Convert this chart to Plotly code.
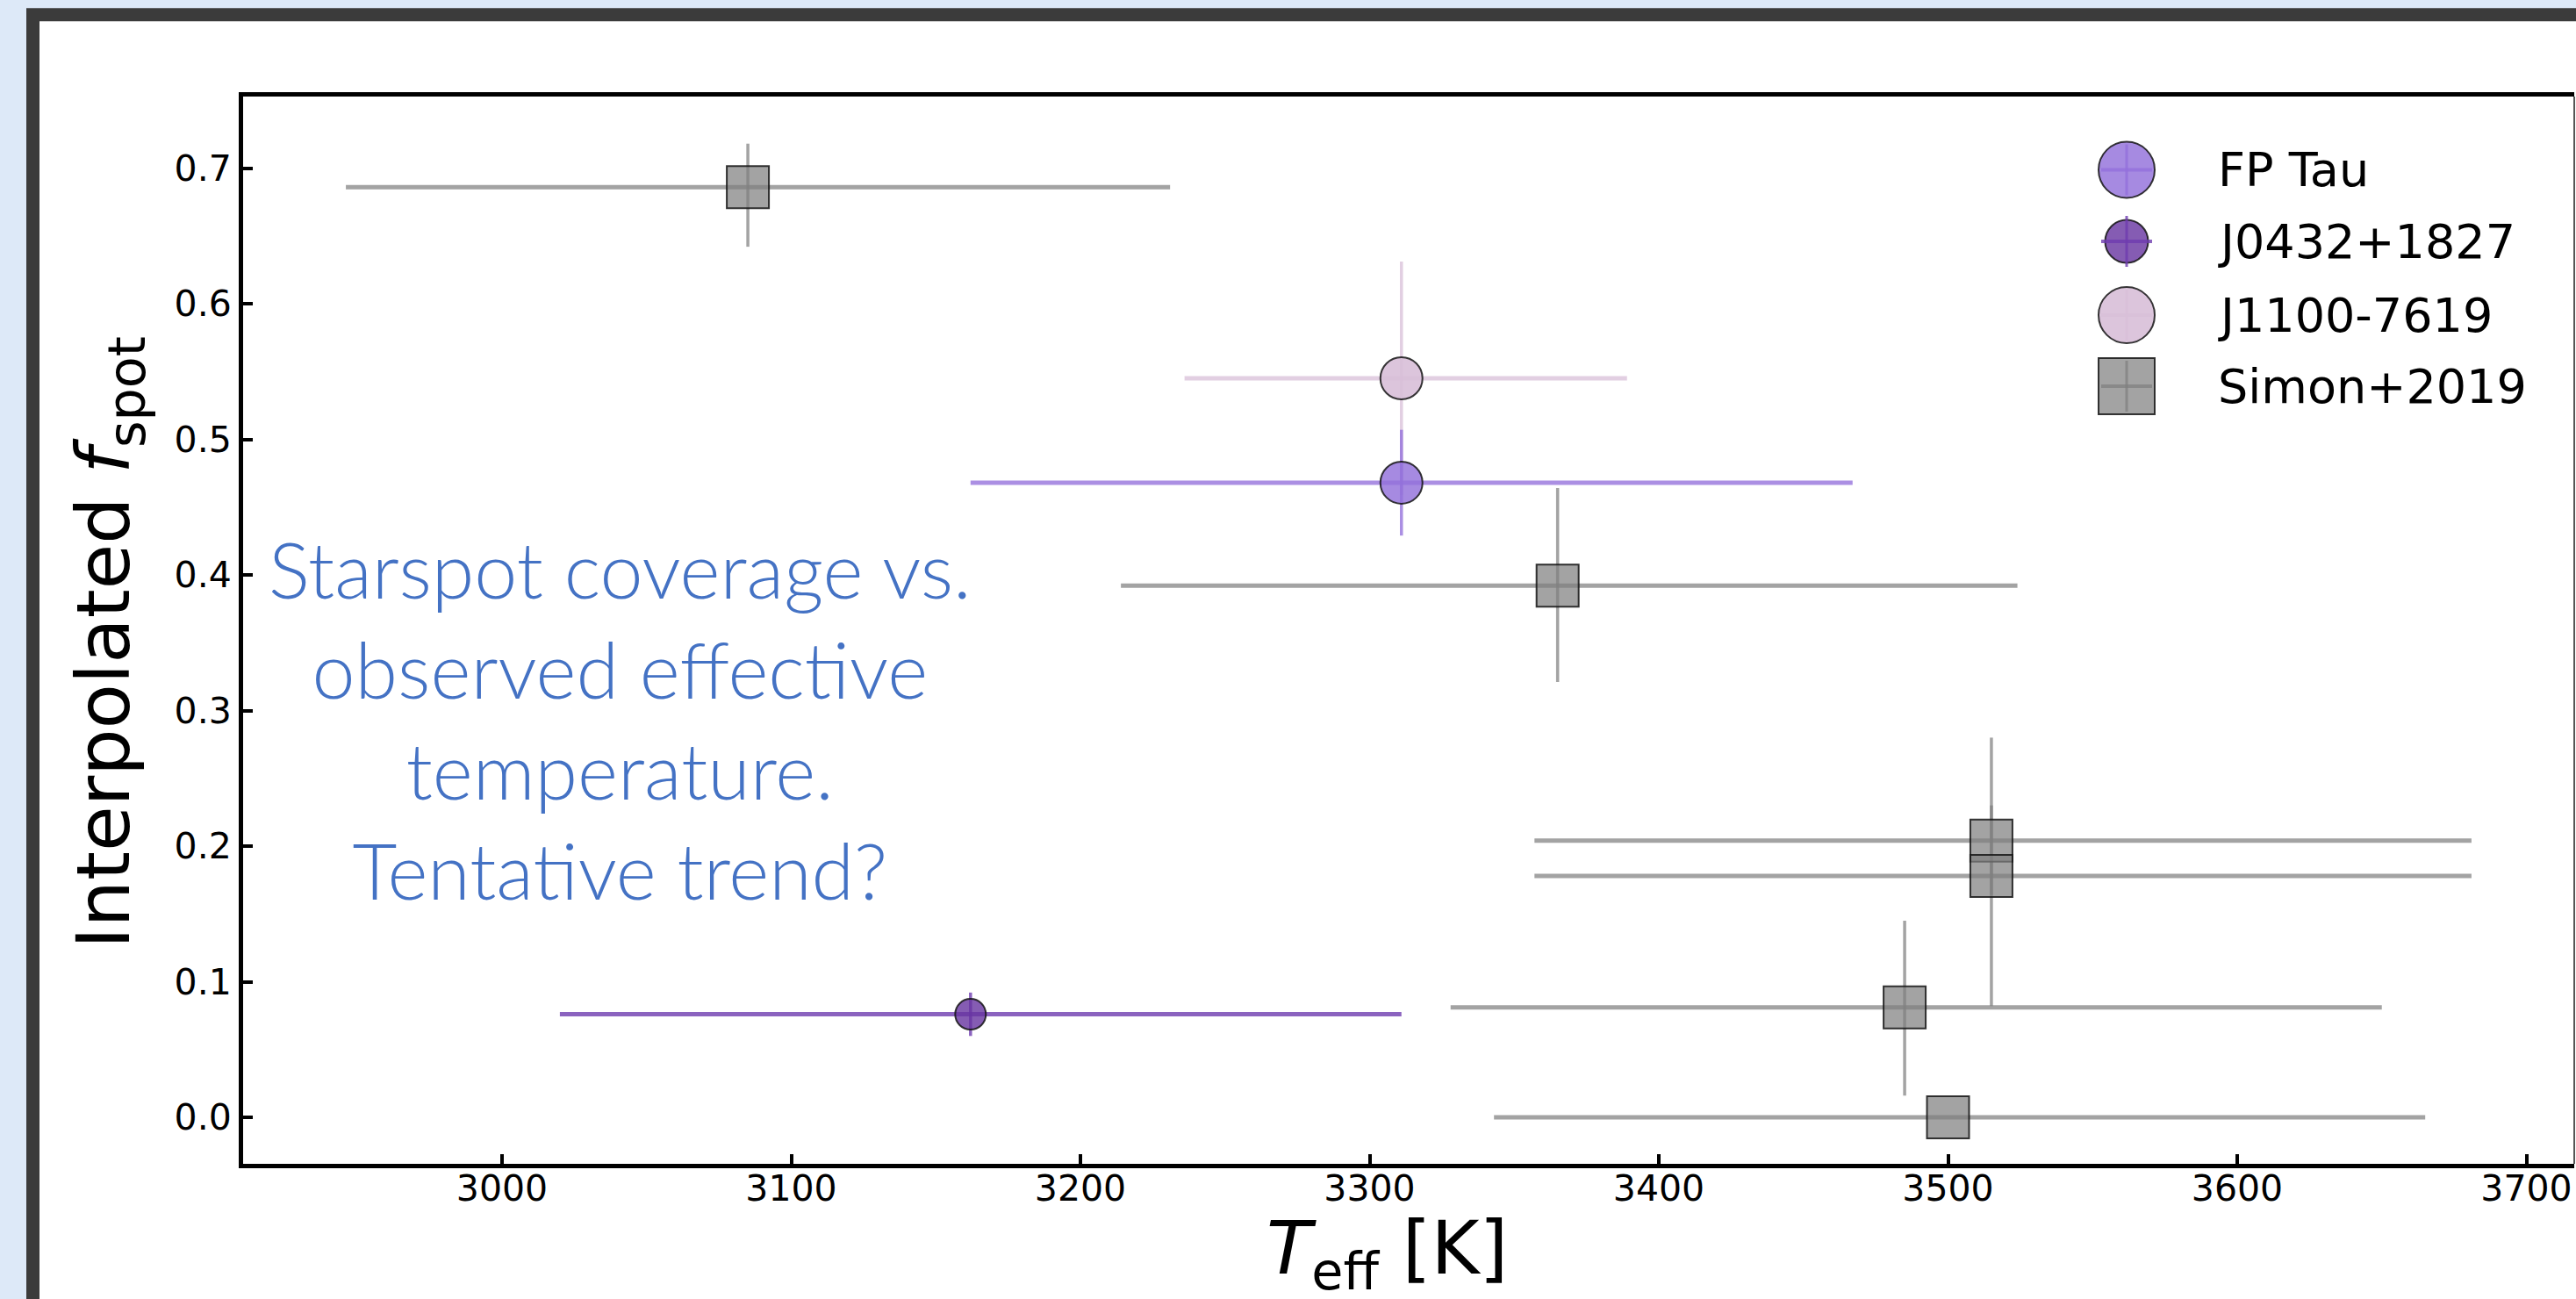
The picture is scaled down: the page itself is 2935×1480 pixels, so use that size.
import plotly.graph_objects as go

# ---------------- data ----------------
fptau_teff = [3311]
fptau_teff_lo = [149]
fptau_teff_hi = [156]
fptau_f = [0.468]
fptau_f_lo = [0.039]
fptau_f_hi = [0.039]

j0432_teff = [3162]
j0432_teff_lo = [142]
j0432_teff_hi = [149]
j0432_f = [0.076]
j0432_f_lo = [0.016]
j0432_f_hi = [0.016]

j1100_teff = [3311]
j1100_teff_lo = [75]
j1100_teff_hi = [78]
j1100_f = [0.545]
j1100_f_lo = [0.086]
j1100_f_hi = [0.086]

simon_teff = [3085, 3365, 3515, 3515, 3485, 3500]
simon_teff_lo = [139, 151, 158, 158, 157, 157]
simon_teff_hi = [146, 159, 166, 166, 165, 165]
simon_f = [0.686, 0.392, 0.204, 0.178, 0.081, 0.000]
simon_f_lo = [0.044, 0.071, 0.040, 0.096, 0.065, 0.0]
simon_f_hi = [0.032, 0.072, 0.076, 0.052, 0.064, 0.0]

x_ticks = [3000, 3100, 3200, 3300, 3400, 3500, 3600, 3700]
y_ticks = [0.0, 0.1, 0.2, 0.3, 0.4, 0.5, 0.6, 0.7]
legend_labels = ["FP Tau", "J0432+1827", "J1100-7619", "Simon+2019"]

# ---------------- layout geometry ----------------
FW, FH = 2935, 1480
ML, MR, MT, MB = 277, 2, 110, 154
PW = FW - ML - MR
PH = FH - MT - MB
PB = FH - MB


def xp(px):
    return (px - ML) / PW


def yp(py):
    return (PB - py) / PH


# colours
c_fp = "rgba(147,112,219,0.82)"
c_fp_err = "rgba(147,112,219,0.78)"
c_j04 = "rgba(102,51,160,0.80)"
c_j04_err = "rgba(110,60,175,0.80)"
c_j11 = "rgba(216,191,216,0.90)"
c_j11_err = "rgba(216,191,216,0.75)"
c_si = "rgba(128,128,128,0.72)"
c_si_err = "rgba(128,128,128,0.72)"
edge = "rgba(20,20,20,0.85)"
page_bg = "#dde9f8"

fig = go.Figure()


def add_series(name, tx, tlo, thi, fy, flo, fhi, color, ecolor, symbol, size):
    fig.add_trace(go.Scatter(
        x=tx, y=fy, mode="markers", name=name, showlegend=False,
        marker=dict(symbol=symbol, size=size, color=color,
                    line=dict(color=edge, width=2)),
        error_x=dict(type="data", symmetric=False, array=thi, arrayminus=tlo,
                     color=ecolor, thickness=5, width=0),
        error_y=dict(type="data", symmetric=False, array=fhi, arrayminus=flo,
                     color=ecolor, thickness=3.5, width=0),
    ))


add_series("Simon+2019", simon_teff, simon_teff_lo, simon_teff_hi, simon_f,
           simon_f_lo, simon_f_hi, c_si, c_si_err, "square", 48)
add_series("J1100-7619", j1100_teff, j1100_teff_lo, j1100_teff_hi, j1100_f,
           j1100_f_lo, j1100_f_hi, c_j11, c_j11_err, "circle", 48)
add_series("J0432+1827", j0432_teff, j0432_teff_lo, j0432_teff_hi, j0432_f,
           j0432_f_lo, j0432_f_hi, c_j04, c_j04_err, "circle", 35)
add_series("FP Tau", fptau_teff, fptau_teff_lo, fptau_teff_hi, fptau_f,
           fptau_f_lo, fptau_f_hi, c_fp, c_fp_err, "circle", 48)

# axis ranges from the reference's pixel scale (3000 K at px 572, 329.5 px / 100 K;
# f=0 at py 1273, 154.5 px / 0.1)
x_range = [3000 - (572 - ML) / 3.295, 3000 + (FW - MR - 572) / 3.295]
y_range = [-(PB - 1273) / 1545.0, (1273 - MT) / 1545.0]

shapes = []
annotations = []

# outer dark frame of the slide
shapes.append(dict(type="rect", xref="paper", yref="paper", layer="below",
                   x0=xp(37.5), x1=xp(3300), y0=yp(1800), y1=yp(16.7),
                   line=dict(color="#3b3b3b", width=15), fillcolor="white"))
# thin right spine
shapes.append(dict(type="line", xref="paper", yref="paper",
                   x0=1, x1=1, y0=0, y1=1,
                   line=dict(color="#555555", width=2)))

# custom legend (large symbols like the original)
leg_x = xp(2423)
leg_ys = [193.5, 275, 359, 440]
leg_fill = [c_fp, c_j04, c_j11, c_si]
leg_err = [c_fp_err, c_j04_err, c_j11_err, c_si_err]
leg_size = [64, 49, 64, 64]
leg_type = ["circle", "circle", "circle", "rect"]
leg_cross = [58, 58, 58, 58]
for lab, py, fc, ec, sz, tp, cr in zip(legend_labels, leg_ys, leg_fill, leg_err,
                                       leg_size, leg_type, leg_cross):
    y = yp(py)
    h = sz / 2
    shapes.append(dict(type=tp, xref="paper", yref="paper",
                       xsizemode="pixel", ysizemode="pixel",
                       xanchor=leg_x, yanchor=y,
                       x0=-h, x1=h, y0=-h, y1=h,
                       fillcolor=fc, line=dict(color=edge, width=2)))
    c = cr / 2
    shapes.append(dict(type="line", xref="paper", yref="paper",
                       xsizemode="pixel", ysizemode="pixel",
                       xanchor=leg_x, yanchor=y,
                       x0=-c, x1=c, y0=0, y1=0,
                       line=dict(color=ec, width=4)))
    shapes.append(dict(type="line", xref="paper", yref="paper",
                       xsizemode="pixel", ysizemode="pixel",
                       xanchor=leg_x, yanchor=y,
                       x0=0, x1=0, y0=-c, y1=c,
                       line=dict(color=ec, width=3)))
    annotations.append(dict(text=lab, xref="paper", yref="paper",
                            x=xp(2525), y=y, xanchor="left", yanchor="middle",
                            showarrow=False,
                            font=dict(family="DejaVu Sans", size=54, color="black")))

# axis titles
annotations.append(dict(text="Interpolated <i>f</i><sub>spot</sub>",
                        xref="paper", yref="paper", x=xp(124), y=yp(732),
                        xanchor="center", yanchor="middle", textangle=-90,
                        showarrow=False,
                        font=dict(family="DejaVu Sans", size=84, color="black")))
annotations.append(dict(text="<i>T</i><sub>eff</sub> [K]",
                        xref="paper", yref="paper", x=xp(1580), y=yp(1428),
                        xanchor="center", yanchor="middle",
                        showarrow=False,
                        font=dict(family="DejaVu Sans", size=84, color="black")))

# blue comment text
annotations.append(dict(text="Starspot coverage vs.<br>observed effective<br>temperature.<br>Tentative trend?",
                        xref="paper", yref="paper", x=xp(706), y=yp(820),
                        xanchor="center", yanchor="middle", align="center",
                        showarrow=False,
                        font=dict(family="Lato", size=88, color="#4472C4", weight=300)))

fig.update_layout(
    width=FW, height=FH, autosize=False,
    margin=dict(l=ML, r=MR, t=MT, b=MB, pad=0),
    paper_bgcolor=page_bg,
    plot_bgcolor="white",
    showlegend=False,
    shapes=shapes,
    annotations=annotations,
    xaxis=dict(range=x_range, tickvals=x_ticks, ticktext=[str(v) for v in x_ticks],
               showgrid=False, zeroline=False, showline=True, linecolor="black",
               linewidth=5, mirror=True, ticks="inside", ticklen=11, tickwidth=4,
               tickcolor="black", ticklabelstandoff=-12,
               tickfont=dict(family="DejaVu Sans", size=41, color="black")),
    yaxis=dict(range=y_range, tickvals=y_ticks, ticktext=[f"{v:.1f}" for v in y_ticks],
               showgrid=False, zeroline=False, showline=True, linecolor="black",
               linewidth=5, ticks="inside", ticklen=11, tickwidth=4,
               tickcolor="black", ticklabelstandoff=0,
               tickfont=dict(family="DejaVu Sans", size=41, color="black")),
)

fig.write_html(
    "out.html",
    config={"displayModeBar": False},
    post_script="document.body.style.margin='0';document.body.style.overflow='hidden';"
                "document.body.style.background='" + page_bg + "';",
)
